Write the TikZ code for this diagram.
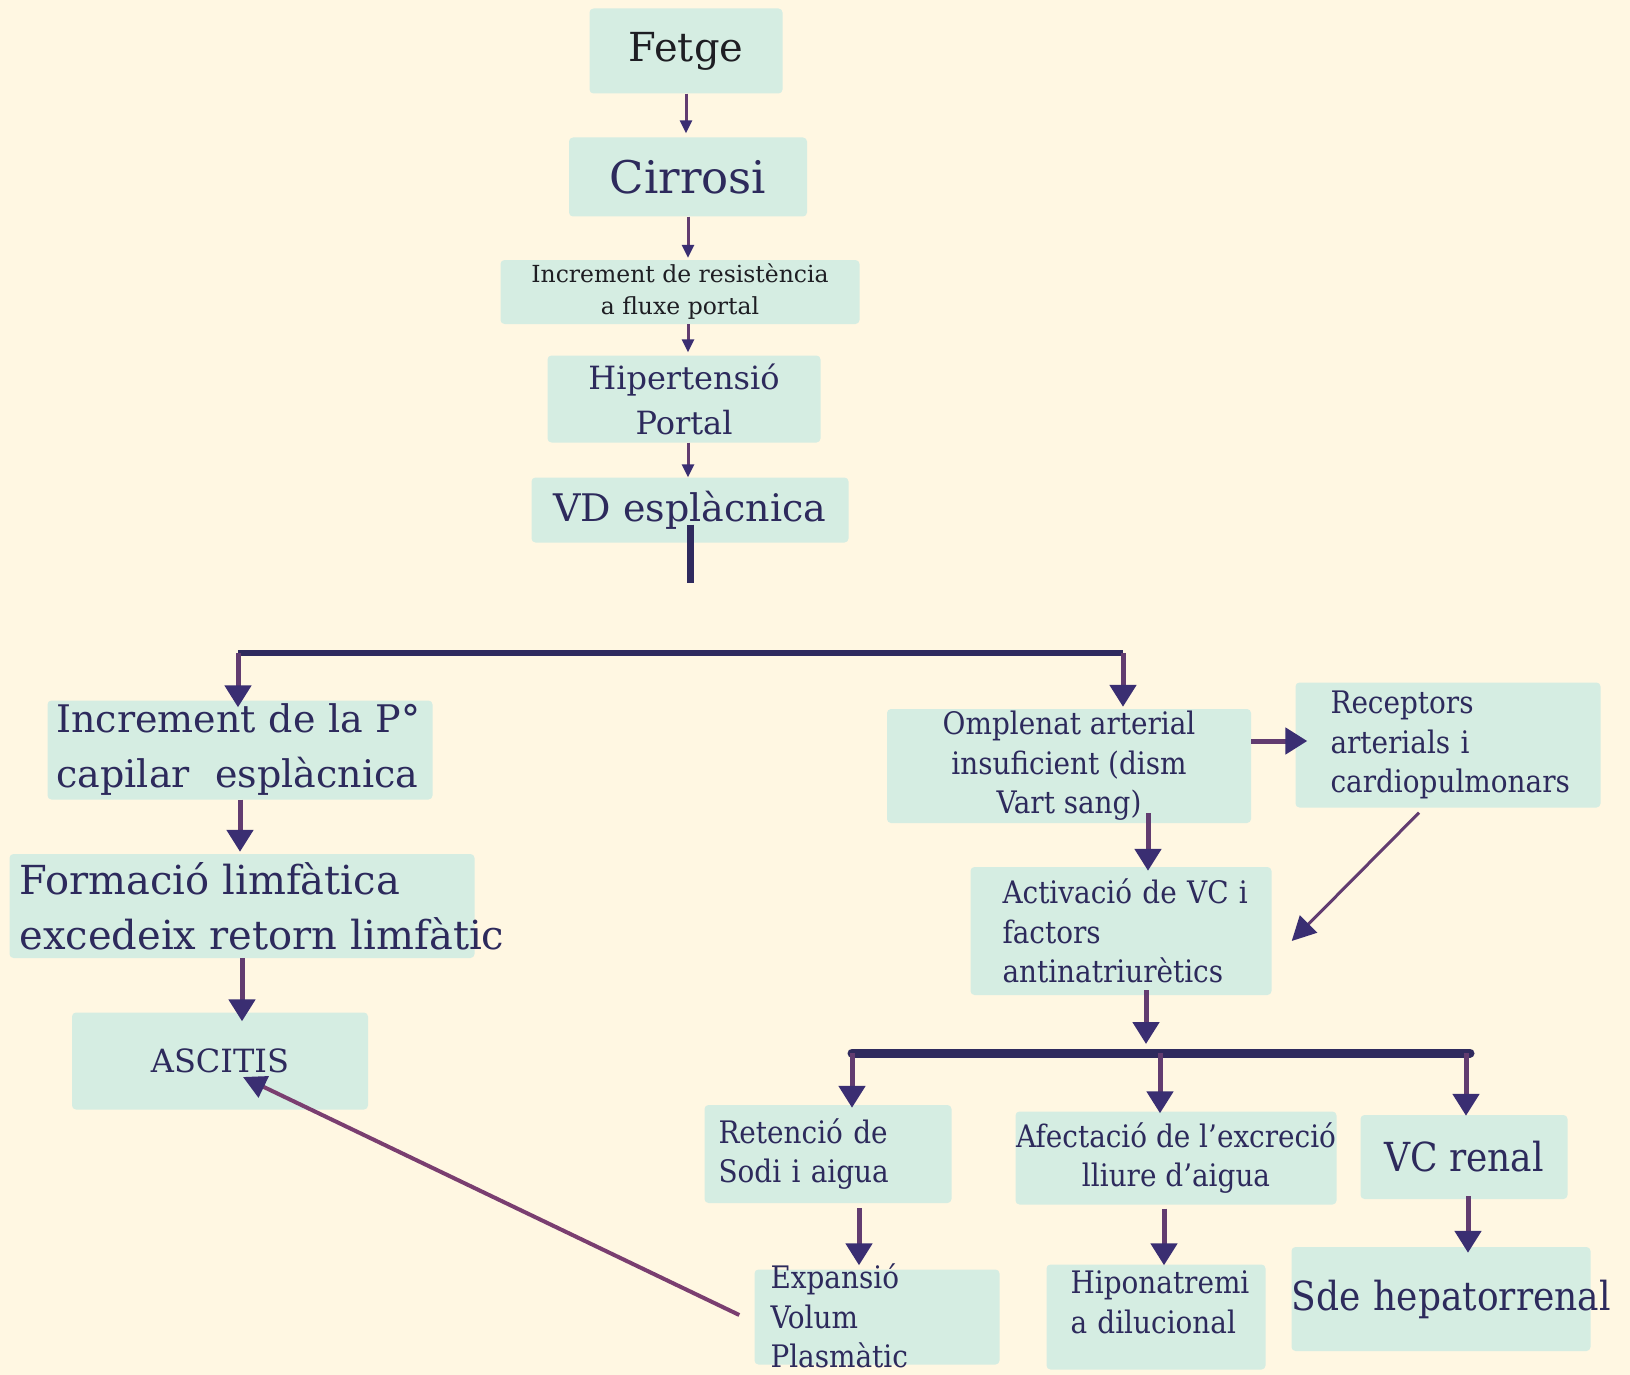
\documentclass[tikz,border=0pt]{standalone}
\usepackage{fontspec}
\setmainfont{DejaVu Serif}
\newfontfamily\handfont{DejaVu Serif Condensed}
\usepackage{tikz}
\usepackage{xcolor}
\usetikzlibrary{arrows.meta, positioning, calc}

\hyphenpenalty=10000
\exhyphenpenalty=10000

\definecolor{paper}{RGB}{255,247,226}
\definecolor{boxfill}{RGB}{213,237,226}
\definecolor{ink}{RGB}{45,42,92}
\definecolor{darkink}{RGB}{30,30,35}
\definecolor{shaft}{RGB}{98,60,112}
\definecolor{pinkshaft}{RGB}{122,62,112}
\definecolor{head}{RGB}{58,46,114}
\definecolor{barcol}{RGB}{47,42,94}

\newcommand{\fsz}[2]{\fontsize{#1}{#2}\selectfont}

\tikzset{
  stage/.style={fill=boxfill, rounded corners=4pt, inner sep=0pt, text=ink},
  hand/.style={font=\handfont\fsz{31}{39.5}},
  smallarrow/.style={draw=shaft, line width=3pt, -{Triangle[length=13pt,width=12pt,color=head,fill=head]}},
  bigarrow/.style={draw=shaft, line width=5pt, -{Triangle[length=22pt,width=26pt,color=head,fill=head]}},
  thinarrow/.style={draw=shaft, line width=3pt, -{Triangle[length=24pt,width=24pt,color=head,fill=head]}},
  backarrow/.style={draw=pinkshaft, line width=4pt, -{Triangle[length=23pt,width=23pt,color=head,fill=head]}},
  bus/.style={draw=barcol, line width=6pt},
  heavybus/.style={draw=barcol, line width=9pt, line cap=round}
}

\begin{document}
\begin{tikzpicture}[x=1pt, y=-1pt]
\fill[paper] (0,0) rectangle (1630,1375);
\useasboundingbox (0,0) rectangle (1630,1375);

% Central chain
\node[stage, text=darkink, font=\fsz{40}{46}, minimum width=193pt, minimum height=85pt] (fetge) at (686,51) {Fetge};
\node[stage, font=\fsz{45}{50}, minimum width=238pt, minimum height=79pt] (cirrosi) at (688,177) {Cirrosi};
\node[stage, text=darkink, align=center, font=\fsz{23.5}{32}, minimum width=359pt, minimum height=64pt] (resist) at (680,292) {Increment de resistència\\a fluxe portal};
\node[stage, align=center, font=\fsz{32}{45}, minimum width=273pt, minimum height=87pt] (hipert) at (684,399) {Hipertensió\\Portal};
\node[stage, font=\fsz{38}{44}, minimum width=317pt, minimum height=65pt] (vd) at (690,510) {VD esplàcnica};

% Left branch
\node[stage, align=left, text width=367pt, font=\fsz{38}{55}, minimum width=385pt, minimum height=99pt] (incP) at (240,750) {Increment de la P°\\capilar\ \ esplàcnica};
\node[stage, align=left, text width=445pt, font=\fsz{40}{55}, minimum width=465pt, minimum height=104pt] (form) at (242,906) {Formació limfàtica\\excedeix~retorn~limfàtic};
\node[stage, font=\fsz{32}{36}, minimum width=296pt, minimum height=97pt] (asc) at (220,1061) {ASCITIS};

% Right branch
\node[stage, hand, align=center, minimum width=364pt, minimum height=114pt] (omp) at (1069,766) {Omplenat arterial\\insuficient (dism\\Vart sang)};
\node[stage, hand, align=left, text width=235pt, minimum width=305pt, minimum height=125pt] (rec) at (1448,745) {Receptors\\arterials i\\cardiopulmonars};
\node[stage, hand, align=left, text width=237pt, minimum width=301pt, minimum height=128pt] (act) at (1121,931) {Activació~de~VC~i\\factors\\antinatriurètics};

% Bottom row
\node[stage, hand, align=left, text width=219pt, minimum width=247pt, minimum height=98pt] (ret) at (828,1154) {Retenció de\\Sodi i aigua};
\node[stage, hand, align=center, minimum width=321pt, minimum height=93pt] (afe) at (1176,1158) {Afectació de l’excreció\\lliure d’aigua};
\node[stage, font=\handfont\fsz{40}{44}, minimum width=207pt, minimum height=84pt] (vcr) at (1464,1157) {VC renal};
\node[stage, hand, align=left, text width=213pt, minimum width=245pt, minimum height=95pt, text height=19pt, text depth=76pt] (exp) at (877,1317) {Expansió\\Volum\\Plasmàtic};
\node[stage, hand, align=left, text width=171pt, minimum width=219pt, minimum height=105pt, text height=29pt, text depth=76pt] (hipo) at (1156,1317) {Hiponatremi\\a dilucional};
\node[stage, font=\handfont\fsz{40}{44}, align=center, text width=299pt, minimum width=299pt, minimum height=104pt] (sde) at (1441,1299) {Sde~hepatorrenal};

% Chain arrows
\draw[smallarrow] (fetge.south) -- ($(fetge.south |- cirrosi.north)+(0,-4)$);
\draw[smallarrow] (cirrosi.south) -- ($(cirrosi.south |- resist.north)+(0,-2)$);
\draw[smallarrow] (resist.south -| cirrosi.south) -- ($(cirrosi.south |- hipert.north)+(0,-3)$);
\draw[smallarrow] (hipert.south -| cirrosi.south) -- (cirrosi.south |- vd.north);

% Split
\coordinate (vdend) at ($(vd.south)+(0,40)$);
\draw[bus, line width=7pt] ($(vd.south)+(0,-18)$) -- (vdend);
\coordinate (lt) at (238,653);
\coordinate (rt) at (1123,653);
\draw[bus] (lt) -- (rt);
\draw[bigarrow] (lt) -- ($(lt |- incP.north)+(0,7)$);
\draw[bigarrow] (rt) -- ($(rt |- omp.north)+(0,-2)$);

% Left arrows
\draw[bigarrow] (incP.south) -- ($(incP.south |- form.north)+(0,-2)$);
\draw[bigarrow] (form.south) -- ($(form.south |- asc.north)+(0,9)$);

% Right arrows
\coordinate (o2r) at ($(omp.east)+(0,-25)$);
\draw[bigarrow] (o2r) -- ($(rec.west |- o2r)+(12,0)$);
\draw[bigarrow] ($(omp.south)+(79,-10)$) -- ($(act.north)+(27,4)$);
\draw[thinarrow] ($(rec.south)+(-29,5)$) -- ($(act.east)+(20,10)$);

% Lower split
\coordinate (bl) at (852,1053);
\coordinate (bm) at (1160,1053);
\coordinate (br) at (1470,1053);
\draw[bigarrow] ($(act.south)+(25,-5)$) -- ($(act.south |- bl)+(25,-9)$);
\draw[heavybus] (bl) -- (br);
\draw[bigarrow] (bl) -- ($(bl |- ret.north)+(0,3)$);
\draw[bigarrow] (bm) -- ($(bm |- afe.north)+(0,2)$);
\draw[bigarrow] ($(br)+(-4,0)$) -- ($(br |- vcr.north)+(-4,1)$);

% Bottom arrows
\draw[bigarrow] ($(ret.south)+(31,5)$) -- ($(ret.south |- exp.north)+(31,-4)$);
\draw[bigarrow] ($(afe.south)+(-12,4)$) -- ($(afe.south |- hipo.north)+(-12,1)$);
\draw[bigarrow] ($(vcr.south)+(4,-3)$) -- ($(vcr.south |- sde.north)+(4,6)$);
\draw[backarrow] ($(exp.west)+(-15,-2)$) -- ($(asc.center)+(23,16)$);
\end{tikzpicture}
\end{document}
